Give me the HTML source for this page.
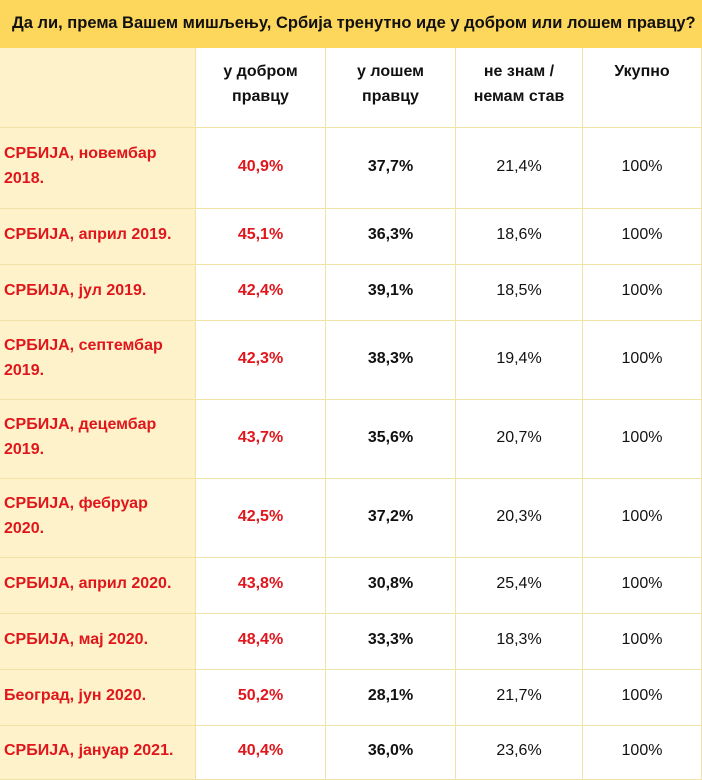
<!DOCTYPE html>
<html><head><meta charset="utf-8"><style>
body{margin:0;width:702px;height:780px;overflow:hidden;background:#fff;font-family:"Liberation Sans",Arial,sans-serif;}
.t{position:absolute;left:0;top:0;width:702px;height:48px;background:#fdd65c;font-weight:bold;font-size:16.5px;line-height:46px;padding-left:12px;box-sizing:border-box;color:#111;white-space:nowrap}
.c{position:absolute;box-sizing:border-box;border-right:1px solid #f1e3a6;border-bottom:1px solid #f1e3a6;display:flex;align-items:center;justify-content:center;text-align:center;font-size:16px;line-height:25px;color:#111}
.f{background:#fdf2c9;justify-content:flex-start;text-align:left;padding-left:4px;color:#e0161c;font-weight:bold}
.r{color:#e0161c;font-weight:bold}.b{font-weight:bold}
</style></head><body>
<div class="t">Да ли, према Вашем мишљењу, Србија тренутно иде у добром или лошем правцу?</div>
<div id="g"></div>
<script>
var cols=[0,196,326,456,583,702];
var rows=[48,128,209,265,321,400,479,558,614,670,726,780];
var data=[
["","у добром<br>правцу","у лошем<br>правцу","не знам /<br>немам став","Укупно"],
["СРБИЈА, новембар<br>2018.","40,9%","37,7%","21,4%","100%"],
["СРБИЈА, април 2019.","45,1%","36,3%","18,6%","100%"],
["СРБИЈА, јул 2019.","42,4%","39,1%","18,5%","100%"],
["СРБИЈА, септембар<br>2019.","42,3%","38,3%","19,4%","100%"],
["СРБИЈА, децембар<br>2019.","43,7%","35,6%","20,7%","100%"],
["СРБИЈА, фебруар<br>2020.","42,5%","37,2%","20,3%","100%"],
["СРБИЈА, април 2020.","43,8%","30,8%","25,4%","100%"],
["СРБИЈА, мај 2020.","48,4%","33,3%","18,3%","100%"],
["Београд, јун 2020.","50,2%","28,1%","21,7%","100%"],
["СРБИЈА, јануар 2021.","40,4%","36,0%","23,6%","100%"]];
var h="";
for(var i=0;i<data.length;i++)for(var j=0;j<5;j++){
var cls="c";if(j==0)cls+=" f";else if(i==0)cls+=" b";else if(j==1)cls+=" r";else if(j==2)cls+=" b";
var st="left:"+cols[j]+"px;top:"+rows[i]+"px;width:"+(cols[j+1]-cols[j])+"px;height:"+(rows[i+1]-rows[i])+"px;";
if(i==0&&j>0)st+="align-items:flex-start;padding-top:11px;";
if(i>0)st+="padding-bottom:4px;";
h+='<div class="'+cls+'" style="'+st+'">'+data[i][j]+'</div>';}
document.getElementById("g").innerHTML=h;
</script>
</body></html>
